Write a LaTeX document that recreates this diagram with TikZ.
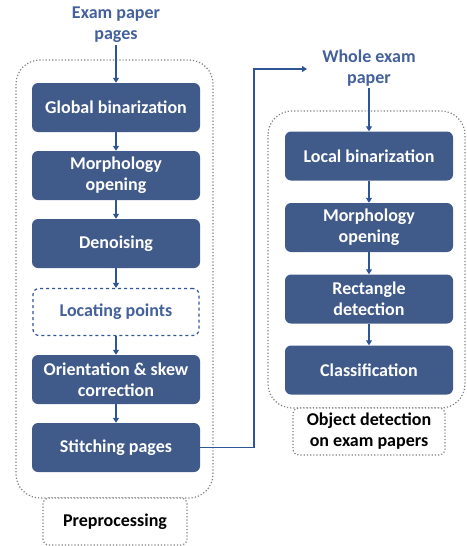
\documentclass[tikz,border=0pt]{standalone}
\usepackage{fontspec}
\setmainfont{Carlito}
\usetikzlibrary{arrows.meta}
\definecolor{boxblue}{HTML}{405A8A}
\definecolor{lineblue}{HTML}{2F5597}
\definecolor{titleblue}{HTML}{44619B}
\definecolor{dotgray}{HTML}{7F7F7F}
\tikzset{
  stepbox/.style={rectangle, rounded corners=6pt, fill=boxblue, text=white,
    minimum width=168pt, minimum height=49pt, align=center, inner sep=1pt,
    font=\fontsize{18}{21}\selectfont\bfseries},
  optbox/.style={stepbox, fill=white, draw=lineblue, dashed, line width=1.2pt,
    text=titleblue, minimum width=166pt, minimum height=47pt},
  title/.style={align=center, text=titleblue, inner sep=2pt,
    font=\fontsize{18}{21}\selectfont\bfseries},
  group/.style={draw=dotgray, dotted, line width=1.2pt, rounded corners=24pt},
  grouplabel/.style={draw=dotgray, dotted, line width=1.2pt, rounded corners=6pt,
    fill=white, align=center, inner sep=1pt,
    font=\fontsize{18}{21}\selectfont\bfseries},
  flow/.style={draw=lineblue, line width=1.3pt, -{Triangle[length=5pt,width=6pt]}}
}
\begin{document}
\begin{tikzpicture}[x=1pt,y=-1pt]
    \useasboundingbox (0,0) rectangle (466,546);
    % groups
    \draw[group] (16,60) rectangle (213,498);
    \draw[group] (268,111) rectangle (465,408);
    \node[grouplabel, minimum width=144pt, minimum height=47pt] (prelabel) at (115,521.5) {Preprocessing};
    \node[grouplabel, minimum width=152pt, minimum height=47pt] (objlabel) at (369,431.5) {Object detection\\on exam papers};
    % preprocessing
    \node[title] (pages) at (116,25) {Exam paper\\pages};
    \node[stepbox] (global) at (116,107.5) {Global binarization};
    \node[stepbox] (morphL) at (116,175.5) {Morphology\\opening};
    \node[stepbox] (denoise) at (116,243.5) {Denoising};
    \node[optbox] (locate) at (116,312) {Locating points};
    \node[stepbox] (orient) at (116,379.5) {Orientation \& skew\\correction};
    \node[stepbox] (stitch) at (116,447.5) {Stitching pages};
    % object detection
    \node[title] (whole) at (369,68) {Whole exam\\paper};
    \node[stepbox] (local) at (369,156) {Local binarization};
    \node[stepbox] (morphR) at (369,227.5) {Morphology\\opening};
    \node[stepbox] (rect) at (369,299) {Rectangle\\detection};
    \node[stepbox] (classify) at (369,370) {Classification};
    \coordinate (turn) at (254,69);
    \coordinate (wholein) at (307,69);
    % connectors
    \draw[flow] (pages) -- (global);
    \draw[flow] (global) -- (morphL);
    \draw[flow] (morphL) -- (denoise);
    \draw[flow] (denoise) -- (locate);
    \draw[flow] (locate) -- (orient);
    \draw[flow] (orient) -- (stitch);
    \draw[flow] (stitch.east) -| (turn) -- (wholein);
    \draw[flow] (whole) -- (local);
    \draw[flow] (local) -- (morphR);
    \draw[flow] (morphR) -- (rect);
    \draw[flow] (rect) -- (classify);
\end{tikzpicture}
\end{document}
